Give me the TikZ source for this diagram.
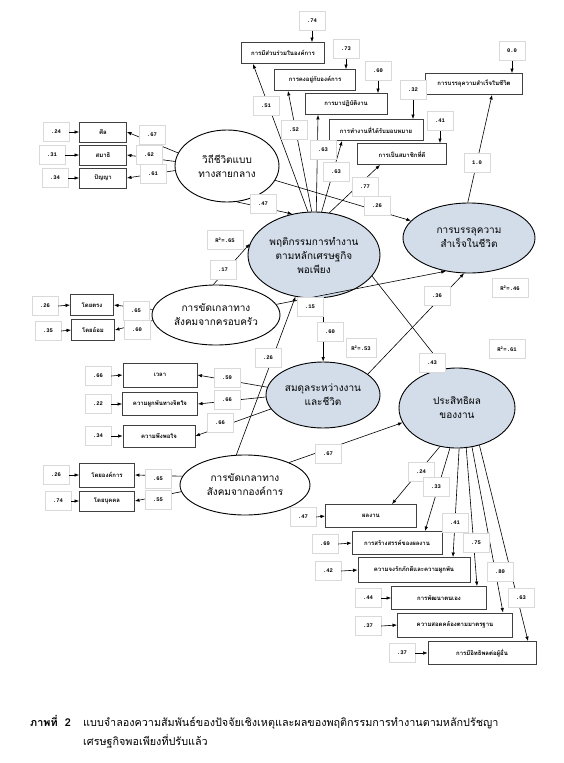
\documentclass[tikz,border=0pt]{standalone}
\usepackage{fontspec}
\setmonofont{Liberation Mono}
\newfontfamily\thai[Script=Thai]{Loma}
\usetikzlibrary{shapes.geometric,arrows.meta}
\definecolor{latblue}{HTML}{D3DDEA}
\tikzset{
  lat/.style={ellipse, draw, line width=0.9pt, fill=white, align=center, inner sep=0pt, font=\thai\fontsize{10}{14}\selectfont},
  endo/.style={lat, fill=latblue},
  ind/.style={draw=black!75, line width=0.9pt, fill=white, inner sep=0pt, minimum height=21pt, font=\thai\bfseries\fontsize{6}{7}\selectfont},
  val/.style={draw=black!15, fill=white, inner sep=0pt, minimum width=26pt, minimum height=19pt, font=\ttfamily\bfseries\fontsize{5.5}{6}\selectfont},
  arr/.style={-{Latex[length=4.5pt,width=3.5pt]}, line width=0.6pt},
  captext/.style={anchor=base west, inner sep=0pt, font=\thai\fontsize{10.8}{13}\selectfont}
}
\begin{document}
\begin{tikzpicture}[x=1pt,y=-1pt]
\useasboundingbox (0,0) rectangle (563,763);

\node[lat, minimum width=104pt, minimum height=72pt] (life) at (227,166) {วิถีชีวิตแบบ\\ทางสายกลาง};
\node[endo, minimum width=132pt, minimum height=86pt] (work) at (314,255) {พฤติกรรมการทำงาน\\ตามหลักเศรษฐกิจ\\พอเพียง};
\node[endo, minimum width=132pt, minimum height=70pt] (succ) at (469,238) {การบรรลุความ\\สำเร็จในชีวิต};
\node[lat, minimum width=128pt, minimum height=60pt] (fam) at (216,315) {การขัดเกลาทาง\\สังคมจากครอบครัว};
\node[endo, minimum width=114pt, minimum height=66pt] (bal) at (323,395) {สมดุลระหว่างงาน\\และชีวิต};
\node[lat, minimum width=130pt, minimum height=60pt] (org) at (245,485) {การขัดเกลาทาง\\สังคมจากองค์การ};
\node[endo, minimum width=116pt, minimum height=80pt] (eff) at (457,408) {ประสิทธิผล\\ของงาน};

\node[ind, minimum width=83pt] (partic) at (283,53) {การมีส่วนร่วมในองค์การ};
\node[ind, minimum width=81pt] (stay) at (315,80) {การคงอยู่กับองค์การ};
\node[ind, minimum width=82pt] (attend) at (346,104) {การมาปฏิบัติงาน};
\node[ind, minimum width=94pt] (task) at (376,130) {การทำงานที่ได้รับมอบหมาย};
\node[ind, minimum width=89pt] (member) at (402,154) {การเป็นสมาชิกที่ดี};
\node[ind, minimum width=97pt] (achv) at (474,84) {การบรรลุความสำเร็จในชีวิต};
\node[val] (e1) at (312,21) {.74};
\node[val] (e2) at (346,49) {.73};
\node[val] (e3) at (378,71) {.60};
\node[val] (e4) at (413,90) {.32};
\node[val] (e5) at (440,121) {.41};
\node[val] (e6) at (512,51) {0.0};

\node[ind, minimum width=47pt, minimum height=20pt] (sila) at (103,132) {ศีล};
\node[ind, minimum width=47pt, minimum height=20pt] (samadhi) at (103,155) {สมาธิ};
\node[ind, minimum width=47pt, minimum height=20pt] (panya) at (103,178) {ปัญญา};
\node[val] (e7) at (56,132) {.24};
\node[val] (e8) at (52,155) {.31};
\node[val] (e9) at (55,178) {.34};

\node[ind, minimum width=43pt] (direct) at (92,305) {โดยตรง};
\node[ind, minimum width=43pt] (indirect) at (93,330) {โดยอ้อม};
\node[val] (e10) at (45,306) {.26};
\node[val] (e11) at (48,331) {.35};

\node[ind, minimum width=74pt, minimum height=24pt] (time) at (160,375) {เวลา};
\node[ind, minimum width=75pt, minimum height=23pt] (bond) at (160,404) {ความผูกพันทางจิตใจ};
\node[ind, minimum width=72pt, minimum height=22pt] (satis) at (159,436) {ความพึงพอใจ};
\node[val] (e12) at (98,376) {.66};
\node[val] (e13) at (98,404) {.22};
\node[val] (e14) at (98,436) {.34};

\node[ind, minimum width=55pt, minimum height=24pt] (byorg) at (107,475) {โดยองค์การ};
\node[ind, minimum width=55pt, minimum height=20pt] (byper) at (107,501) {โดยบุคคล};
\node[val] (e15) at (56,475) {.26};
\node[val] (e16) at (58,501) {.74};

\node[ind, minimum width=91pt, minimum height=23pt] (perf) at (371,516) {ผลงาน};
\node[ind, minimum width=90pt, minimum height=23pt] (creat) at (397,543) {การสร้างสรรค์ของผลงาน};
\node[ind, minimum width=112pt, minimum height=25pt] (loyal) at (414,570) {ความจงรักภักดีและความผูกพัน};
\node[ind, minimum width=95pt, minimum height=23pt] (selfdev) at (439,598) {การพัฒนาตนเอง};
\node[ind, minimum width=115pt, minimum height=24pt] (stdfit) at (455,625) {ความสอดคล้องตามมาตรฐาน};
\node[ind, minimum width=108pt, minimum height=23pt] (influ) at (482,653) {การมีอิทธิพลต่อผู้อื่น};
\node[val] (e17) at (303,517) {.47};
\node[val] (e18) at (325,544) {.69};
\node[val] (e19) at (328,571) {.42};
\node[val] (e20) at (368,598) {.44};
\node[val] (e21) at (368,626) {.37};
\node[val] (e22) at (402,653) {.37};

\foreach \e/\b in {e1/partic,e2/stay,e3/attend,e4/task,e5/member,e6/achv}
  \draw[arr] (\e) -- (\e |- \b.north);
\foreach \e/\b in {e7/sila,e8/samadhi,e9/panya,e10/direct,e11/indirect,e12/time,e13/bond,e14/satis,e15/byorg,e16/byper,e17/perf,e18/creat,e19/loyal,e20/selfdev,e21/stdfit,e22/influ}
  \draw[arr] (\e.east) -- (\b.west);

\draw[arr] (work.98) -- ([xshift=-30pt]partic.south);
\draw[arr] (work.93) -- ([xshift=-27pt]stay.south);
\draw[arr] (work.87) -- ([xshift=-28pt]attend.south);
\draw[arr] (work.80) -- ([xshift=-34pt]task.south);
\draw[arr] (work.70) -- ([xshift=-22pt]member.south);
\draw[arr] (succ.92) -- ([xshift=18pt]achv.south);

\draw[arr] (life.165) -- (sila.east);
\draw[arr] (life.175) -- (samadhi.east);
\draw[arr] (life.185) -- (panya.east);
\draw[arr] (fam.175) -- (direct.east);
\draw[arr] (fam.185) -- (indirect.east);
\draw[arr] (bal.172) -- (time.east);
\draw[arr] (bal.182) -- (bond.east);
\draw[arr] (bal.195) -- (satis.east);
\draw[arr] (org.172) -- (byorg.east);
\draw[arr] (org.186) -- (byper.east);

\draw[arr] (eff.246) -- ([xshift=21pt]perf.north);
\draw[arr] (eff.260) -- ([xshift=28pt]creat.north);
\draw[arr] (eff.273) -- ([xshift=39pt]loyal.north);
\draw[arr] (eff.283) -- ([xshift=38pt]selfdev.north);
\draw[arr] (eff.291) -- ([xshift=48pt]stdfit.north);
\draw[arr] (eff.301) -- ([xshift=46pt]influ.north);

\draw[arr] (life.285) -- (work.118);
\draw[arr] (life) -- (succ);
\draw[arr] (fam.95) -- (work.170);
\draw[arr] (fam.10) -- (succ.235);
\draw[arr] (org.106) -- (work.246);
\draw[arr] (work.282) -- (work.282 |- bal.north);
\draw[arr] (bal.25) -- (succ.262);
\draw[arr] (work.-20) -- (eff.107);
\draw[arr] (org.27) -- (eff.195);

\node[val] (l1) at (266,106) {.51};
\node[val] (l2) at (294,130) {.52};
\node[val] (l3) at (323,150) {.63};
\node[val] (l4) at (336,172) {.63};
\node[val] (l5) at (365,187) {.77};
\node[val] (l6) at (377,206) {.26};
\node[val] (l7) at (477,163) {1.0};
\node[val] (l8) at (152,135) {.67};
\node[val] (l9) at (149,155) {.62};
\node[val] (l10) at (153,174) {.61};
\node[val] (l11) at (263,204) {.47};
\node[val, minimum width=36pt] (r1) at (225,240) {R\textsuperscript{2}=.65};
\node[val] (l12) at (223,270) {.17};
\node[val] (l13) at (136,311) {.65};
\node[val] (l14) at (137,330) {.60};
\node[val] (l15) at (310,307) {.15};
\node[val] (l16) at (330,332) {.60};
\node[val, minimum width=30pt] (r2) at (361,348) {R\textsuperscript{2}=.53};
\node[val] (l17) at (437,296) {.36};
\node[val, minimum width=36pt] (r3) at (510,288) {R\textsuperscript{2}=.46};
\node[val] (l18) at (432,363) {.43};
\node[val, minimum width=36pt] (r4) at (507,349) {R\textsuperscript{2}=.61};
\node[val] (l19) at (268,358) {.26};
\node[val] (l20) at (227,378) {.59};
\node[val] (l21) at (227,400) {.66};
\node[val] (l22) at (220,423) {.66};
\node[val] (l23) at (328,454) {.67};
\node[val] (l24) at (158,479) {.65};
\node[val] (l25) at (158,500) {.55};
\node[val] (l26) at (421,472) {.24};
\node[val] (l27) at (436,487) {.33};
\node[val] (l28) at (455,523) {.41};
\node[val] (l29) at (476,543) {.75};
\node[val] (l30) at (500,572) {.80};
\node[val] (l31) at (521,598) {.63};

\node[captext] (capno) at (30,726) {\bfseries ภาพที่\ \ 2};
\node[captext] (cap1) at (83,726) {แบบจำลองความสัมพันธ์ของปัจจัยเชิงเหตุและผลของพฤติกรรมการทำงานตามหลักปรัชญา};
\node[captext] (cap2) at (83,745) {เศรษฐกิจพอเพียงที่ปรับแล้ว};
\end{tikzpicture}
\end{document}
